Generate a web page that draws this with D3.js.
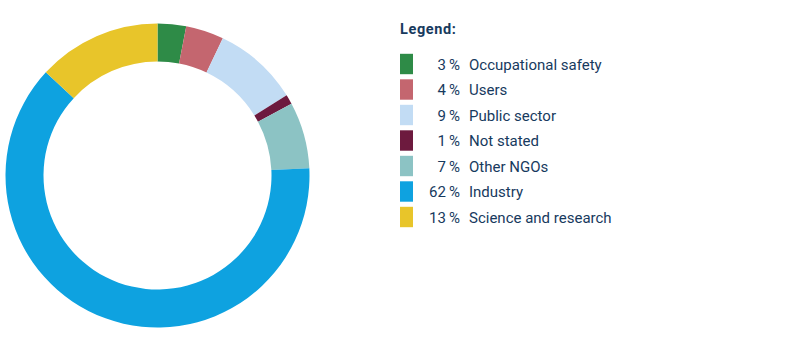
<!DOCTYPE html>
<html>
<head>
<meta charset="utf-8">
<script src="https://cdn.jsdelivr.net/npm/d3@7"></script>
<style>
  html, body { margin: 0; padding: 0; background: #fff; }
  svg { display: block; }
  text { font-family: Roboto, "Open Sans", sans-serif; fill: #173a5e; }
</style>
</head>
<body>
<svg id="chart" width="801" height="351"></svg>
<script>
const categories = ["Occupational safety", "Users", "Public sector", "Not stated", "Other NGOs", "Industry", "Science and research"];
const values = [3, 4, 9, 1, 7, 62, 13];
const colors = ["#2e8b47", "#c4666f", "#c2dcf4", "#6d1a3e", "#8cc3c4", "#0ea2e0", "#e8c52a"];
const legendTitle = "Legend:";

const svg = d3.select("#chart");
const cx = 157.5, cy = 175.5, outerR = 152, innerR = 114;

const pie = d3.pie().sort(null).value(d => d.value);
const arc = d3.arc().innerRadius(innerR).outerRadius(outerR);
const data = categories.map((c, i) => ({ name: c, value: values[i], color: colors[i] }));

svg.append("g")
  .attr("transform", `translate(${cx},${cy})`)
  .selectAll("path")
  .data(pie(data))
  .join("path")
  .attr("d", arc)
  .attr("fill", d => d.data.color);

const lg = svg.append("g");
lg.append("text")
  .attr("x", 400).attr("y", 33.5)
  .attr("font-size", 14.5)
  .attr("font-weight", "bold")
  .attr("letter-spacing", 0.6)
  .text(legendTitle);

const y = d3.scaleBand().domain(categories).range([53.8, 227.2]).paddingInner(0.2);

const rows = lg.selectAll("g.row").data(data).join("g").attr("class", "row");
rows.append("rect")
  .attr("x", 400).attr("width", 13)
  .attr("y", d => y(d.name)).attr("height", y.bandwidth())
  .attr("fill", d => d.color);
rows.append("text")
  .attr("x", 460).attr("text-anchor", "end")
  .attr("y", d => y(d.name) + y.bandwidth() / 2 + 5.5)
  .attr("font-size", 15)
  .text(d => d.value + "\u2009%");
rows.append("text")
  .attr("x", 469)
  .attr("y", d => y(d.name) + y.bandwidth() / 2 + 5.5)
  .attr("font-size", 15)
  .text(d => d.name);
</script>
</body>
</html>
